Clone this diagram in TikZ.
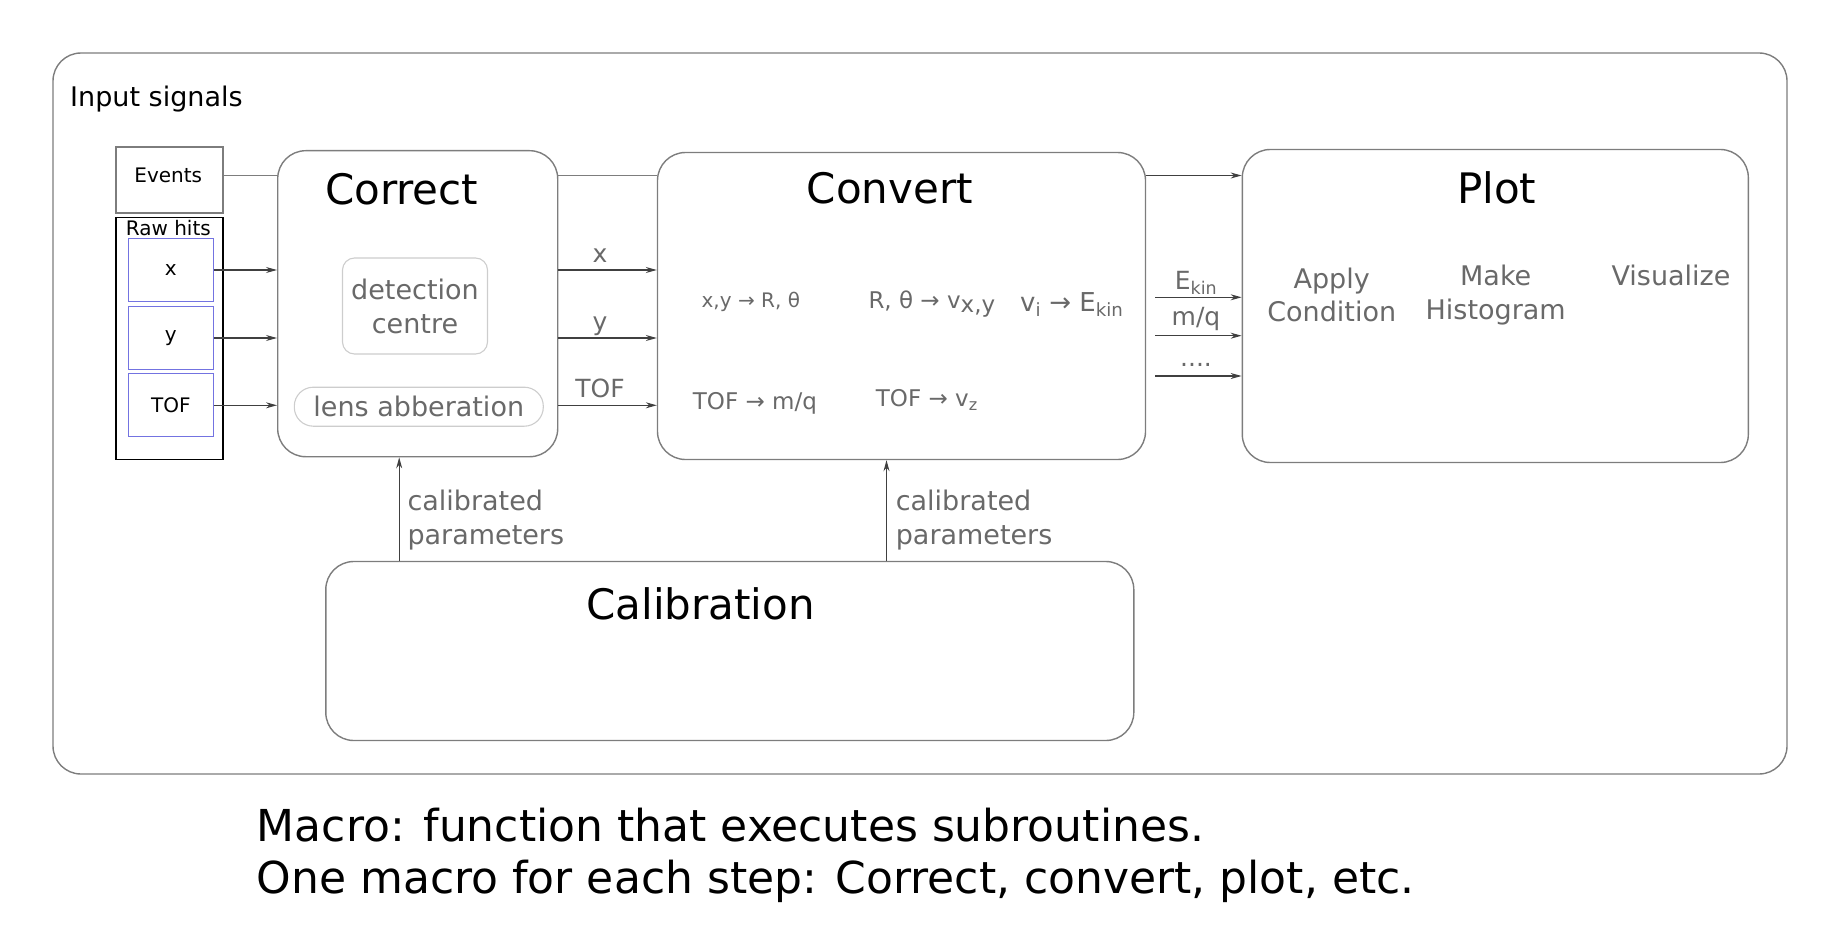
\documentclass[tikz,border=0pt]{standalone}
\usepackage{fontspec}
\setmainfont{DejaVu Sans}
\usepackage{tikz}
\usetikzlibrary{arrows.meta}

\definecolor{linegray}{RGB}{125,125,125}
\definecolor{textgray}{RGB}{105,105,105}
\definecolor{palegray}{RGB}{205,205,205}
\definecolor{hitblue}{RGB}{115,115,225}
\newcommand{\fsz}[2]{\fontsize{#1}{#2}\selectfont}

\begin{document}
\begin{tikzpicture}[x=1pt,y=-1pt,
        block/.style={draw=linegray, line width=1.4pt, rounded corners=28pt, inner sep=0pt},
        sqbox/.style={draw=#1, line width=1.3pt, inner sep=0pt},
        hitbox/.style={sqbox=hitblue, minimum width=85pt, minimum height=63pt, font=\fsz{20}{24}},
        subbox/.style={draw=palegray, line width=1.1pt, inner sep=0pt, text=textgray, align=center},
        lbl/.style={inner sep=0pt, anchor=base},
        glbl/.style={lbl, text=textgray},
        title/.style={lbl, font=\fsz{42}{50}},
        conn/.style={draw=linegray, line width=1.3pt},
        arr/.style={draw=black!75, line width=1.1pt, -{Stealth[length=11pt,width=6pt]}}]
        \useasboundingbox (0,0) rectangle (1831,939);

        % outer frame
        \node[block, minimum width=1734pt, minimum height=721pt] (frame) at (920,413.5) {};
        \node[lbl, anchor=base west, font=\fsz{27}{32}] (inputs) at (70,106.7) {Input signals};

        % input signals
        \node[sqbox=linegray, minimum width=107pt, minimum height=66pt] (events) at (169.5,180) {};
        \node[lbl, font=\fsz{20}{24}] (evlbl) at (168.3,182.7) {Events};
        \node[sqbox=black, minimum width=107pt, minimum height=242pt] (raw) at (169.5,338.5) {};
        \node[lbl, font=\fsz{20}{24}] (rawlbl) at (168.3,235) {Raw hits};
        \node[hitbox] (hx) at (170.8,270) {x};
        \node[hitbox] (hy) at (170.8,338) {y};
        \node[hitbox] (htof) at (170.8,405.3) {TOF};

        % macro blocks
        \node[block, minimum width=280pt, minimum height=306pt] (correct) at (417.7,303.7) {};
        \node[block, minimum width=488pt, minimum height=307pt] (convert) at (901.5,306) {};
        \node[block, minimum width=506pt, minimum height=313pt] (plot) at (1495.3,306) {};
        \node[block, minimum width=808pt, minimum height=179pt] (calib) at (729.8,651) {};

        \node[title] (correctT) at (401.7,204) {Correct};
        \node[title] (convertT) at (890,203.3) {Convert};
        \node[title] (plotT) at (1496.7,203.3) {Plot};
        \node[title] (calibT) at (700.6,619) {Calibration};

        % inside Correct
        \node[subbox, rounded corners=12pt, minimum width=145pt, minimum height=96pt,
              font=\fsz{27}{34}] (detect) at (415,306) {detection\\centre};
        \node[subbox, rounded corners=19pt, minimum width=249pt, minimum height=39pt,
              font=\fsz{27}{32}] (lens) at (418.8,406.7) {lens abberation};

        % inside Convert
        \node[glbl, font=\fsz{20}{24}] (xyR) at (750.8,307.3) {x,y → R, θ};
        \node[glbl, anchor=base west, font=\fsz{23}{27}] (Rv) at (868.3,308.3) {R, θ → v\raisebox{-4pt}{x,y}};
        \node[glbl, anchor=base west, font=\fsz{26}{30}] (vE) at (1020,311.7) {v\textsubscript{i} → E\textsubscript{kin}};
        \node[glbl, anchor=base west, font=\fsz{23}{27}] (tofm) at (692.7,409) {TOF → m/q};
        \node[glbl, anchor=base west, font=\fsz{23}{27}] (tofv) at (875.7,406.7) {TOF → v\textsubscript{z}};

        % inside Plot
        \node[glbl, align=center, font=\fsz{27}{33.4}, anchor=north] (apply) at (1331.7,267.3) {Apply\\Condition};
        \node[glbl, align=center, font=\fsz{27}{34.3}, anchor=north] (hist) at (1495.7,264.3) {Make\\Histogram};
        \node[glbl, font=\fsz{27}{32}] (visual) at (1671,285) {Visualize};

        % events line
        \coordinate (evrow) at (0,175.5);
        \draw[conn] (evrow -| events.east) -- (evrow -| correct.west);
        \draw[conn] (evrow -| correct.east) -- (evrow -| convert.west);
        \draw[arr] (evrow -| convert.east) -- (evrow -| plot.west);

        % raw hits into Correct, then into Convert
        \foreach \n in {hx,hy,htof} {
            \draw[arr] (\n) -- (\n -| correct.west);
            \draw[arr] (\n -| correct.east) -- (\n -| convert.west);
        }
        \node[glbl, font=\fsz{25}{30}] (lx) at (600,262.7) {x};
        \node[glbl, font=\fsz{25}{30}] (ly) at (600,330.7) {y};
        \node[glbl, font=\fsz{25}{30}] (ltof) at (600,397.3) {TOF};

        % Convert into Plot
        \coordinate (o1) at (1155,297.3);
        \coordinate (o2) at (1155,335.7);
        \coordinate (o3) at (1155,376);
        \foreach \c in {o1,o2,o3}
            \draw[arr] (\c) -- (\c -| plot.west);
        \node[glbl, font=\fsz{25}{30}] (lekin) at (1196,289.5) {E\textsubscript{kin}};
        \node[glbl, font=\fsz{25}{30}] (lmq) at (1196,325) {m/q};
        \node[glbl, font=\fsz{25}{30}] (ldots) at (1196,366) {....};

        % calibration feedback
        \coordinate (ca) at (399.2,0);
        \coordinate (cb) at (886.5,0);
        \draw[arr] (ca |- calib.north) -- (ca |- correct.south);
        \draw[arr] (cb |- calib.north) -- (cb |- convert.south);
        \node[glbl, anchor=north west, align=left, font=\fsz{27}{33.3}] (cp1) at (407.3,490) {calibrated\\parameters};
        \node[glbl, anchor=north west, align=left, font=\fsz{27}{33.3}] (cp2) at (895.6,490) {calibrated\\parameters};

        % caption
        \node[lbl, anchor=base west, font=\fsz{44}{52}] (cap1) at (256.7,841.7) {Macro: function that executes subroutines.};
        \node[lbl, anchor=base west, font=\fsz{44}{52}] (cap2) at (256.7,893.3) {One macro for each step: Correct, convert, plot, etc.};
    \end{tikzpicture}
\end{document}
